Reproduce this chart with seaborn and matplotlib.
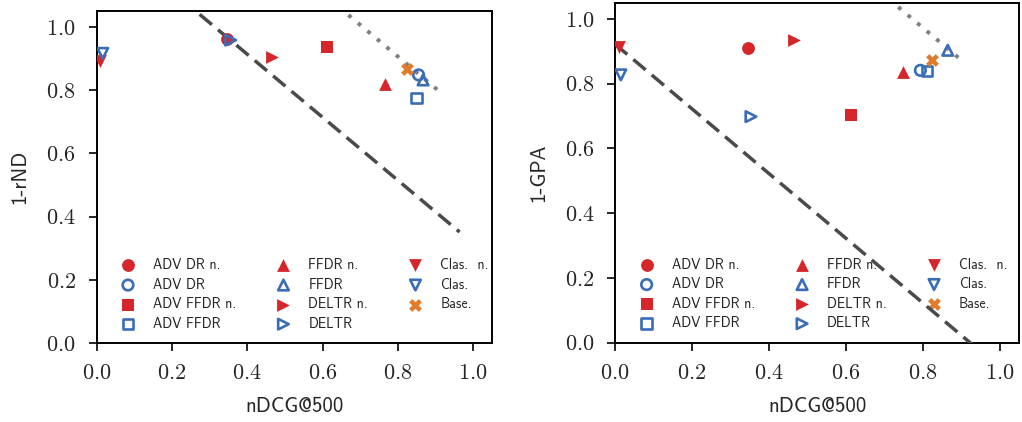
import matplotlib

matplotlib.use("Agg")

import matplotlib.pyplot as plt
import seaborn as sns

# methods in legend order
methods = ["ADV DR n.", "ADV DR", "ADV FFDR n.", "ADV FFDR", "FFDR n.", "FFDR",
           "DELTR n.", "DELTR", "Clas.  n.", "Clas.", "Base."]
markers = ["o", "o", "s", "s", "^", "^", ">", ">", "v", "v", "X"]
filled = [True, False, True, False, True, False, True, False, True, False, True]
kinds = ["red", "blue", "red", "blue", "red", "blue", "red", "blue", "red", "blue", "orange"]

# left panel: nDCG@500 vs 1-rND
ndcg_rnd = [0.346, 0.855, 0.613, 0.849, 0.767, 0.867, 0.465, 0.356, 0.009, 0.016, 0.824]
rnd = [0.961, 0.848, 0.937, 0.775, 0.819, 0.832, 0.903, 0.958, 0.893, 0.916, 0.866]

# right panel: nDCG@500 vs 1-GPA
ndcg_gpa = [0.346, 0.793, 0.614, 0.810, 0.749, 0.864, 0.465, 0.353, 0.011, 0.015, 0.824]
gpa = [0.911, 0.841, 0.704, 0.839, 0.837, 0.903, 0.934, 0.698, 0.913, 0.827, 0.872]

# reference lines
rnd_dash_x = [0.0, 0.964]
rnd_dash_y = [1.312, 0.351]
rnd_dot_x = [0.6, 0.911]
rnd_dot_y = [1.106, 0.795]
gpa_dash_x = [0.0, 0.96]
gpa_dash_y = [0.922, -0.038]
gpa_dot_x = [0.65, 0.905]
gpa_dot_y = [1.122, 0.867]

PALETTE = {"red": "#d4262b", "blue": "#3a6db5", "orange": "#e07b2b"}
TICK_FONT = "cmr10"
LABEL_FONT = "cmss10"

sns.set_style("ticks")
plt.rcParams["axes.formatter.use_mathtext"] = True
plt.rcParams["axes.linewidth"] = 1.4
plt.rcParams["xtick.major.width"] = 1.4
plt.rcParams["ytick.major.width"] = 1.4
plt.rcParams["xtick.major.size"] = 6
plt.rcParams["ytick.major.size"] = 6
plt.rcParams["axes.edgecolor"] = "black"


def draw_panel(ax, xs, ys, dash_x, dash_y, dot_x, dot_y, ylabel):
    sns.lineplot(x=dash_x, y=dash_y, ax=ax, color="#4a4a4a", linewidth=2.5, zorder=3)
    ax.lines[-1].set_dashes((4.6, 2.3))
    sns.lineplot(x=dot_x, y=dot_y, ax=ax, color="#808080", linewidth=2.8, zorder=3)
    ax.lines[-1].set_dashes((1, 2.2))

    for name, x, y, m, f, k in zip(methods, xs, ys, markers, filled, kinds):
        c = PALETTE[k]
        if f:
            sns.scatterplot(x=[x], y=[y], ax=ax, marker=m, color=c, edgecolor=c,
                            s=85, linewidth=0, label=name, zorder=4)
        else:
            sns.scatterplot(x=[x], y=[y], ax=ax, marker=m, facecolor="none",
                            edgecolor=c, s=58, linewidth=1.9, label=name, zorder=4)

    ax.set_xlim(0, 1.05)
    ax.set_ylim(0, 1.05)
    ax.set_xticks([0.0, 0.2, 0.4, 0.6, 0.8, 1.0])
    ax.set_yticks([0.0, 0.2, 0.4, 0.6, 0.8, 1.0])
    ax.tick_params(labelsize=16, pad=9)
    for lab in ax.get_xticklabels() + ax.get_yticklabels():
        lab.set_fontfamily(TICK_FONT)
    ax.set_xlabel("nDCG@500", fontsize=15, fontfamily=LABEL_FONT, labelpad=10)
    ax.set_ylabel(ylabel, fontsize=15, fontfamily=LABEL_FONT, labelpad=12)

    leg = ax.legend(ncol=3, frameon=False, loc="lower left",
                    bbox_to_anchor=(0.03, 0.02), borderaxespad=0,
                    prop={"family": LABEL_FONT, "size": 10},
                    labelspacing=0.4, columnspacing=2.4, handletextpad=0.8)
    leg.set_zorder(1)


fig = plt.figure(figsize=(10.22, 4.22), dpi=100)
ax_left = fig.add_axes([0.0946, 0.1872, 0.3868, 0.7867])
ax_right = fig.add_axes([0.6018, 0.188, 0.3956, 0.8057])

draw_panel(ax_left, ndcg_rnd, rnd, rnd_dash_x, rnd_dash_y, rnd_dot_x, rnd_dot_y, "1-rND")
draw_panel(ax_right, ndcg_gpa, gpa, gpa_dash_x, gpa_dash_y, gpa_dot_x, gpa_dot_y, "1-GPA")

fig.savefig("out.png", dpi=100)
